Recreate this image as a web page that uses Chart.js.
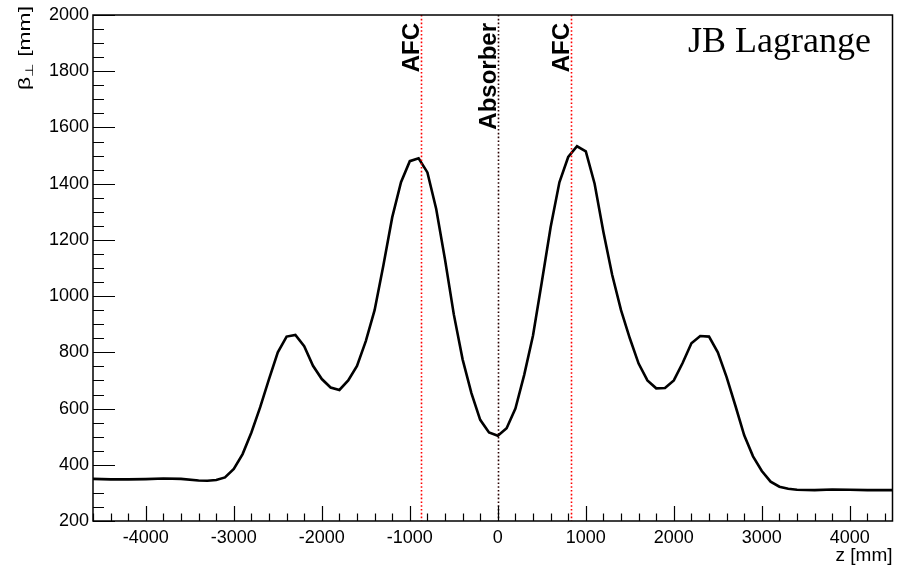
<!DOCTYPE html>
<html>
<head>
<meta charset="utf-8">
<script src="https://cdn.jsdelivr.net/npm/chart.js@4/dist/chart.umd.min.js"></script>
<style>
html,body{margin:0;padding:0;background:#fff;}
#wrap{width:903px;height:569px;position:relative;}
</style>
</head>
<body>
<div id="wrap"><canvas id="c"></canvas></div>
<script>
// ---- data ----
const zPositions = [-4600,-4400,-4200,-4000,-3800,-3600,-3400,-3300,-3200,-3100,-3000,-2900,-2800,-2700,-2600,-2500,-2400,-2300,-2200,-2100,-2000,-1900,-1800,-1700,-1600,-1500,-1400,-1300,-1200,-1100,-1000,-900,-800,-700,-600,-500,-400,-300,-200,-100,0,100,200,300,400,500,600,700,800,900,1000,1100,1200,1300,1400,1500,1600,1700,1800,1900,2000,2100,2200,2300,2400,2500,2600,2700,2800,2900,3000,3100,3200,3300,3400,3600,3800,4000,4200,4485];
const betaPerp   = [350,348,348,349,351,350,344,343,346,355,385,438,515,605,705,800,856,862,822,752,705,675,666,700,752,840,950,1110,1280,1405,1480,1490,1440,1310,1130,935,775,655,560,515,503,530,600,720,860,1050,1245,1405,1495,1533,1515,1400,1228,1075,950,850,760,700,672,673,700,762,832,858,856,800,712,610,505,430,378,340,322,315,311,310,312,311,310,310];
const xTickValues = [-4000,-3000,-2000,-1000,0,1000,2000,3000,4000];
const yTickValues = [200,400,600,800,1000,1200,1400,1600,1800,2000];
const xMinorStep = 200;
const yMinorStep = 50;
const markerPositions = [-870, 0, 837];
const markerLabels = ['AFC', 'Absorber', 'AFC'];
const markerColors = ['#ff0000', '#2a0000', '#ff0000'];
const xRange = [-4600, 4485];
const yRange = [200, 2000];
const titleText = 'JB Lagrange';
const xTitle = 'z [mm]';

const points = zPositions.map((z, i) => ({x: z, y: betaPerp[i]}));

const decor = {
  id: 'decor',
  afterDraw(chart) {
    const ctx = chart.ctx;
    const a = chart.chartArea;
    const xs = chart.scales.x, ys = chart.scales.y;
    ctx.save();
    // vertical marker lines
    markerPositions.forEach((p, i) => {
      const px = Math.round(xs.getPixelForValue(p)) + 0.5;
      ctx.strokeStyle = markerColors[i];
      ctx.lineWidth = 1.6;
      ctx.setLineDash([1.6, 2.2]);
      ctx.beginPath();
      ctx.moveTo(px, a.top);
      ctx.lineTo(px, a.bottom);
      ctx.stroke();
      ctx.setLineDash([]);
      // label
      ctx.save();
      ctx.translate(px - 2.5, a.top + 8);
      ctx.rotate(-Math.PI / 2);
      ctx.fillStyle = '#000';
      ctx.font = 'bold 24px "Liberation Sans", Arial, sans-serif';
      ctx.textAlign = 'right';
      ctx.textBaseline = 'alphabetic';
      ctx.fillText(markerLabels[i], 0, 0);
      ctx.restore();
    });
    // frame
    ctx.strokeStyle = '#000';
    ctx.lineWidth = 1.5;
    ctx.strokeRect(a.left, a.top, a.right - a.left, a.bottom - a.top);
    // x ticks (inward)
    ctx.lineWidth = 1.2;
    ctx.beginPath();
    for (let v = Math.ceil(xRange[0] / xMinorStep) * xMinorStep; v <= xRange[1]; v += xMinorStep) {
      const px = Math.round(xs.getPixelForValue(v)) + 0.5;
      const major = xTickValues.includes(v);
      ctx.moveTo(px, a.bottom);
      ctx.lineTo(px, a.bottom - (major ? 15 : 7.5));
    }
    // y ticks (inward)
    for (let v = yRange[0]; v <= yRange[1]; v += yMinorStep) {
      const py = Math.round(ys.getPixelForValue(v)) + 0.5;
      const major = yTickValues.includes(v);
      ctx.moveTo(a.left, py);
      ctx.lineTo(a.left + (major ? 22 : 11), py);
    }
    ctx.stroke();
    // title
    ctx.fillStyle = '#000';
    ctx.font = '36px "Liberation Serif", "Times New Roman", serif';
    ctx.textAlign = 'left';
    ctx.textBaseline = 'alphabetic';
    ctx.fillText(titleText, 688, 52);
    // x title
    ctx.font = '19px "Liberation Sans", Arial, sans-serif';
    ctx.textAlign = 'right';
    ctx.fillText(xTitle, a.right, 561);
    // y title: beta with perpendicular subscript, stretched like the original
    ctx.save();
    ctx.translate(30, 6);
    ctx.rotate(-Math.PI / 2);
    ctx.scale(1.43, 1);
    ctx.textAlign = 'right';
    ctx.font = '16px "Liberation Sans", Arial, sans-serif';
    const tail = ' [mm]';
    ctx.fillText(tail, 0, 0);
    let off = -ctx.measureText(tail).width;
    ctx.font = '11px "DejaVu Sans", sans-serif';
    ctx.fillText('\u22A5', off, 3);
    off -= ctx.measureText('\u22A5').width;
    ctx.font = '16px "Liberation Sans", Arial, sans-serif';
    ctx.fillText('\u03B2', off, 0);
    ctx.restore();
    ctx.restore();
  }
};

new Chart(document.getElementById('c'), {
  type: 'scatter',
  data: {
    datasets: [{
      data: points,
      showLine: true,
      borderColor: '#000',
      borderWidth: 2.6,
      pointRadius: 0,
      tension: 0,
      fill: false
    }]
  },
  options: {
    responsive: true,
    maintainAspectRatio: false,
    animation: false,
    devicePixelRatio: 1,
    layout: {padding: {left: 0, top: 15, right: 10.5, bottom: 0}},
    plugins: {legend: {display: false}, tooltip: {enabled: false}},
    scales: {
      x: {
        type: 'linear',
        min: xRange[0], max: xRange[1],
        grid: {display: false, drawTicks: false},
        border: {display: false},
        afterBuildTicks: s => { s.ticks = xTickValues.map(v => ({value: v})); },
        afterFit: s => { s.height = 48; },
        ticks: {
          color: '#000', padding: 6, maxRotation: 0, autoSkip: false,
          font: {family: '"Liberation Sans", Arial, sans-serif', size: 18},
          callback: v => String(v)
        }
      },
      y: {
        type: 'linear',
        min: yRange[0], max: yRange[1],
        grid: {display: false, drawTicks: false},
        border: {display: false},
        afterBuildTicks: s => { s.ticks = yTickValues.map(v => ({value: v})); },
        afterFit: s => { s.width = 93; },
        ticks: {
          color: '#000', padding: 4, autoSkip: false,
          font: {family: '"Liberation Sans", Arial, sans-serif', size: 18},
          callback: v => String(v)
        }
      }
    }
  },
  plugins: [decor]
});
</script>
</body>
</html>
